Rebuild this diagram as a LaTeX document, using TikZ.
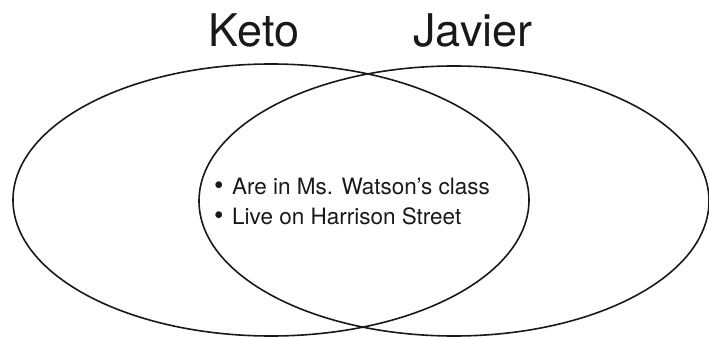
\documentclass[tikz,border=0pt]{standalone}
\usepackage{fontspec}
\setmainfont{TeX Gyre Heros}
\newcommand{\bigbul}{\makebox[18pt][l]{\fontsize{27}{27}\selectfont•}}
\begin{document}
\begin{tikzpicture}[x=1pt,y=-1pt,
  ring/.style={draw=black!90, line width=1.6pt},
  title/.style={font=\fontsize{45}{54}\selectfont, inner sep=0pt, anchor=base, text=black!90},
  item/.style={font=\fontsize{22.5}{27}\selectfont, inner sep=0pt, anchor=base west, text=black!90}]
\useasboundingbox (0,0) rectangle (709,337);
\draw[ring] (271,200) ellipse [x radius=258, y radius=136];
\draw[ring] (454,201) ellipse [x radius=255, y radius=135];
\node[title] (keto) at (254,47) {Keto};
\node[title] (javier) at (473,47) {Javier};
\node[item] (a) at (214,194) {\bigbul Are in Ms. Watson’s class};
\node[item] (b) at (214,224) {\bigbul Live on Harrison Street};
\end{tikzpicture}
\end{document}
